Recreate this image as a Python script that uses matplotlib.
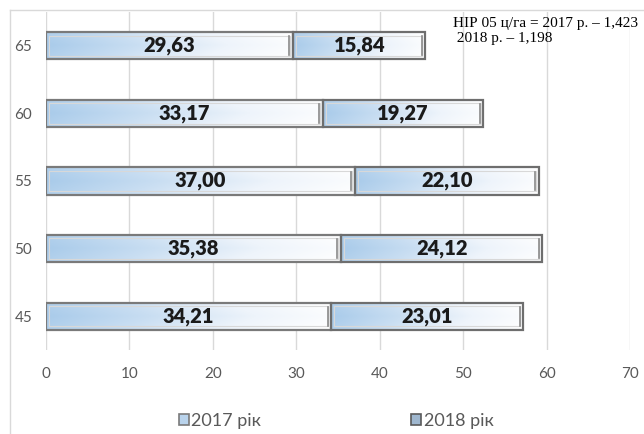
import numpy as np
import matplotlib
matplotlib.use("Agg")
import matplotlib.pyplot as plt
from matplotlib.colors import LinearSegmentedColormap
from matplotlib.patches import Rectangle
from matplotlib.lines import Line2D

categories = ["45", "50", "55", "60", "65"]
y2017 = [34.21, 35.38, 37.00, 33.17, 29.63]
y2018 = [23.01, 24.12, 22.10, 19.27, 15.84]
labels2017 = ["34,21", "35,38", "37,00", "33,17", "29,63"]
labels2018 = ["23,01", "24,12", "22,10", "19,27", "15,84"]
series_names = ["2017 рік", "2018 рік"]
xticks = [0, 10, 20, 30, 40, 50, 60, 70]
note = "НІР 05 ц/га = 2017 р. – 1,423\n 2018 р. – 1,198"

fig = plt.figure(figsize=(6.44, 4.34), dpi=100)
ax = fig.add_axes([46/644, 1-350/434, (630-46)/644, (350-12)/434])

grad_cmap = LinearSegmentedColormap.from_list(
    "g", ["#a9cbea", "#c9def2", "#eef4fb", "#ffffff"])

ypos = np.arange(len(categories))
h = 0.4
b1 = ax.barh(ypos, y2017, height=h, color="none", edgecolor="#7a7a7a", lw=1.6, zorder=3)
b2 = ax.barh(ypos, y2018, left=y2017, height=h, color="none", edgecolor="#6e6e6e", lw=1.6, zorder=3)

gx = np.linspace(0, 1, 256)
gy = np.linspace(0, 1, 32)
GX, GY = np.meshgrid(gx, gy)
for bars in (b1, b2):
    for p in bars:
        x0, y0 = p.get_x(), p.get_y()
        w, hh = p.get_width(), p.get_height()
        vals = GX * 0.9 + 0.1 * np.abs(GY - 0.5) * 2
        im = ax.imshow(vals, cmap=grad_cmap, aspect="auto",
                       extent=[x0, x0 + w, y0, y0 + hh], origin="lower",
                       zorder=2, interpolation="bilinear", vmin=0, vmax=1)
        clip = Rectangle((x0, y0), w, hh, transform=ax.transData)
        im.set_clip_path(clip)
        ax.add_patch(Rectangle((x0 + 0.35, y0 + 0.05), w - 0.7, hh - 0.1,
                               fill=False, edgecolor="#d8d8d8", lw=0.8, zorder=3))
        ax.plot([x0 + w - 0.45, x0 + w - 0.45], [y0 + 0.06, y0 + hh - 0.06],
                color="#8a8a8a", lw=1.2, zorder=3)

for i in ypos:
    ax.text(y2017[i] / 2, i, labels2017[i], ha="center", va="center",
            fontsize=14.5, fontweight="heavy", color="#1a1a1a",
            family="Lato", zorder=4)
    ax.text(y2017[i] + y2018[i] / 2, i, labels2018[i], ha="center", va="center",
            fontsize=14.5, fontweight="heavy", color="#1a1a1a",
            family="Lato", zorder=4)

ax.set_xlim(0, 70)
ax.set_ylim(-0.5, len(categories) - 0.5)
ax.set_xticks(xticks)
ax.set_yticks(ypos)
ax.set_yticklabels(categories)
ax.grid(axis="x", color="#d9d9d9", lw=1, zorder=0)
for s in ax.spines.values():
    s.set_visible(False)
ax.tick_params(length=0, labelsize=11, labelcolor="#595959", pad=12)
ax.tick_params(axis="y", pad=10)
for lab in ax.get_xticklabels() + ax.get_yticklabels():
    lab.set_family("Lato")

ax.text(0.697, 0.985, note, transform=ax.transAxes, ha="left", va="top",
        fontsize=11, family="Liberation Serif", color="#000000", linespacing=1.2,
        zorder=5)

fig.add_artist(Line2D([10/644, 10/644], [0, 1-10/434], color="#d9d9d9", lw=1))
fig.add_artist(Line2D([10/644, 1], [1-10/434, 1-10/434], color="#d9d9d9", lw=1))

handles = [Rectangle((0, 0), 1, 1, facecolor="#b9d3ec", edgecolor="#7a7a7a", lw=1.2),
           Rectangle((0, 0), 1, 1, facecolor="#9fb7cf", edgecolor="#5a5a5a", lw=1.2)]
leg = fig.legend(handles, series_names, loc="center", bbox_to_anchor=(0.522, 1-421/434),
                 ncol=2, frameon=False, handlelength=0.55, handleheight=0.55,
                 handletextpad=0.15, columnspacing=8.3,
                 prop={"family": "Lato", "size": 13})
for t in leg.get_texts():
    t.set_color("#595959")

fig.savefig("out.png", dpi=100)
